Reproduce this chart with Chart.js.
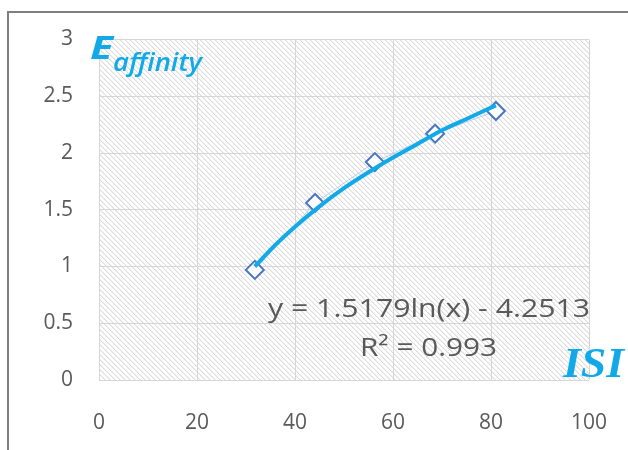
<!DOCTYPE html>
<html>
<head>
<meta charset="utf-8">
<script src="https://cdn.jsdelivr.net/npm/chart.js@4/dist/chart.umd.min.js"></script>
<style>
html,body{margin:0;padding:0;background:#fff;}
#wrap{width:628px;height:450px;position:relative;}
</style>
</head>
<body>
<div id="wrap"><canvas id="c" width="628" height="450"></canvas></div>
<script>
// ---- data ----
const isiValues = [31.8, 44.1, 56.3, 68.6, 81.0];
const affinityValues = [0.97, 1.56, 1.92, 2.17, 2.37];
// logarithmic trend line as drawn in the picture (sampled)
const trendX = [31.8, 36, 40, 45, 50, 55, 60, 65, 70, 75, 81.0];
const trendY = [1.00, 1.19, 1.35, 1.53, 1.69, 1.83, 1.96, 2.08, 2.20, 2.30, 2.42];
const xTickValues = [0, 20, 40, 60, 80, 100];
const yTickValues = [0, 0.5, 1, 1.5, 2, 2.5, 3];
const yTickLabels = ["0", "0.5", "1", "1.5", "2", "2.5", "3"];
const xTickLabels = ["0", "20", "40", "60", "80", "100"];
const equationText = "y = 1.5179ln(x) - 4.2513";
const r2Text = "R\u00B2 = 0.993";
const yTitleMain = "E";
const yTitleSub = "affinity";
const xTitle = "ISI";

const toPts = (xs, ys) => xs.map((x, i) => ({x: x, y: ys[i]}));

// hatch pattern
const tile = document.createElement('canvas');
tile.width = 5; tile.height = 5;
const tctx = tile.getContext('2d');
tctx.fillStyle = '#ffffff';
tctx.fillRect(0, 0, 5, 5);
for (let i = 0; i < 5; i++) {
  tctx.fillStyle = '#dcdcdc';
  tctx.fillRect(i, i, 1, 1);
  tctx.fillStyle = '#f0f0f0';
  tctx.fillRect((i + 1) % 5, i, 1, 1);
}

function stretchText(ctx, text, left, right, baseline) {
  const w = ctx.measureText(text).width;
  ctx.save();
  ctx.translate(left, baseline);
  ctx.scale((right - left) / w, 1);
  ctx.textAlign = 'left';
  ctx.fillText(text, 0, 0);
  ctx.restore();
}

const decor = {
  id: 'decor',
  beforeDraw(chart) {
    const ctx = chart.ctx, a = chart.chartArea;
    ctx.save();
    ctx.fillStyle = '#fff';
    ctx.fillRect(0, 0, chart.width, chart.height);
    ctx.strokeStyle = '#7f7f7f';
    ctx.lineWidth = 2;
    ctx.strokeRect(8, 12, 800, 600);
    ctx.fillStyle = ctx.createPattern(tile, 'repeat');
    ctx.fillRect(a.left, a.top, a.right - a.left, a.bottom - a.top);
    ctx.restore();
  },
  afterDatasetsDraw(chart) {
    const ctx = chart.ctx;
    ctx.save();
    ctx.fillStyle = '#595959';
    ctx.textBaseline = 'alphabetic';
    ctx.font = '25px "Open Sans"';
    stretchText(ctx, equationText, 268, 590, 317);
    stretchText(ctx, r2Text, 360, 497, 356);
    // axis titles
    ctx.fillStyle = '#12A9E9';
    ctx.font = 'italic bold 33px "Open Sans"';
    stretchText(ctx, yTitleMain, 90, 113, 59);
    ctx.font = 'italic 600 25px "Open Sans"';
    stretchText(ctx, yTitleSub, 113, 202, 71);
    ctx.font = 'italic bold 43px "Liberation Serif"';
    stretchText(ctx, xTitle, 563, 624, 377);
    ctx.restore();
  }
};

new Chart(document.getElementById('c'), {
  type: 'scatter',
  data: {
    datasets: [
      {
        label: 'trend',
        data: toPts(trendX, trendY),
        showLine: true,
        borderColor: '#12A9E9',
        borderWidth: 4,
        pointRadius: 0,
        cubicInterpolationMode: 'monotone',
        order: 0
      },
      {
        label: 'points',
        data: toPts(isiValues, affinityValues),
        showLine: false,
        pointStyle: 'rectRot',
        pointRadius: 9,
        pointBorderWidth: 2,
        pointBorderColor: '#4a76c0',
        pointBackgroundColor: '#ffffff',
        order: 1
      },
      {
        label: 'connect',
        data: toPts(isiValues, affinityValues),
        showLine: true,
        borderColor: 'rgba(160,190,230,0.7)',
        borderWidth: 1,
        pointRadius: 0,
        order: 2
      }
    ]
  },
  options: {
    responsive: false,
    animation: false,
    events: [],
    layout: {padding: {top: 39.5, right: 39, left: 0, bottom: 0}},
    plugins: {legend: {display: false}, tooltip: {enabled: false}},
    scales: {
      x: {
        type: 'linear', min: 0, max: 100,
        afterBuildTicks: s => { s.ticks = xTickValues.map(v => ({value: v})); },
        afterFit: s => { s.height = 70; s.paddingLeft = 0; s.paddingRight = 0; },
        grid: {color: '#d6d6d6', lineWidth: 1, drawTicks: false},
        border: {display: false},
        ticks: {
          padding: 30,
          color: '#5a5a5a',
          font: {family: '"Open Sans"', size: 21},
          callback: (v) => xTickLabels[xTickValues.indexOf(v)]
        }
      },
      y: {
        type: 'linear', min: 0, max: 3,
        afterBuildTicks: s => { s.ticks = yTickValues.map(v => ({value: v})); },
        afterFit: s => { s.width = 99; s.paddingTop = 0; s.paddingBottom = 0; },
        grid: {color: '#d6d6d6', lineWidth: 1, drawTicks: false},
        border: {display: false},
        ticks: {
          padding: 26,
          color: '#5a5a5a',
          font: {family: '"Open Sans"', size: 21},
          callback: (v) => yTickLabels[yTickValues.indexOf(v)]
        }
      }
    }
  },
  plugins: [decor]
});
</script>
</body>
</html>
